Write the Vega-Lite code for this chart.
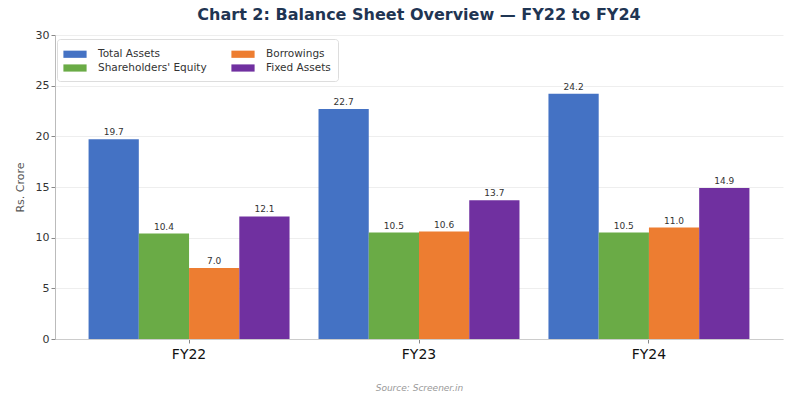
{
  "$schema": "https://vega.github.io/schema/vega-lite/v6.json",
  "width": 728,
  "height": 304,
  "autosize": {"type": "none"},
  "padding": {"left": 55, "top": 35, "right": 17, "bottom": 61},
  "background": "#ffffff",
  "config": {
    "font": "DejaVu Sans",
    "view": {"stroke": null}
  },
  "title": {
    "text": "Chart 2: Balance Sheet Overview — FY22 to FY24",
    "anchor": "middle",
    "fontSize": 16,
    "fontWeight": "bold",
    "color": "#1f3553",
    "offset": 6
  },
  "data": {
    "values": [
      {"fy": "FY22", "series": "Total Assets", "value": 19.7},
      {"fy": "FY22", "series": "Shareholders' Equity", "value": 10.4},
      {"fy": "FY22", "series": "Borrowings", "value": 7.0},
      {"fy": "FY22", "series": "Fixed Assets", "value": 12.1},
      {"fy": "FY23", "series": "Total Assets", "value": 22.7},
      {"fy": "FY23", "series": "Shareholders' Equity", "value": 10.5},
      {"fy": "FY23", "series": "Borrowings", "value": 10.6},
      {"fy": "FY23", "series": "Fixed Assets", "value": 13.7},
      {"fy": "FY24", "series": "Total Assets", "value": 24.2},
      {"fy": "FY24", "series": "Shareholders' Equity", "value": 10.5},
      {"fy": "FY24", "series": "Borrowings", "value": 11.0},
      {"fy": "FY24", "series": "Fixed Assets", "value": 14.9}
    ]
  },
  "encoding": {
    "x": {
      "field": "fy",
      "type": "nominal",
      "scale": {"paddingInner": 0.126, "paddingOuter": 0.146},
      "axis": {
        "title": "Source: Screener.in",
        "titleFontStyle": "italic",
        "titleFontWeight": "normal",
        "titleFontSize": 9,
        "titleColor": "#999999",
        "titlePadding": 22,
        "labelAngle": 0,
        "labelFontSize": 14,
        "labelColor": "#111111",
        "labelPadding": 4,
        "domainColor": "#cccccc",
        "tickColor": "#888888",
        "tickSize": 4
      }
    },
    "xOffset": {
      "field": "series",
      "type": "nominal",
      "sort": ["Total Assets", "Shareholders' Equity", "Borrowings", "Fixed Assets"],
      "scale": {"paddingInner": 0, "paddingOuter": 0}
    },
    "y": {
      "field": "value",
      "type": "quantitative",
      "scale": {"domain": [0, 30], "nice": false},
      "axis": {
        "title": "Rs. Crore",
        "titleFontWeight": "normal",
        "titleFontSize": 11,
        "titleColor": "#555555",
        "titlePadding": 10,
        "values": [0, 5, 10, 15, 20, 25, 30],
        "labelFontSize": 11,
        "labelColor": "#333333",
        "gridColor": "#eeeeee",
        "domainColor": "#bbbbbb",
        "tickColor": "#888888",
        "tickSize": 4
      }
    }
  },
  "layer": [
    {
      "mark": {"type": "bar"},
      "encoding": {
        "color": {
          "field": "series",
          "type": "nominal",
          "scale": {
            "domain": ["Total Assets", "Shareholders' Equity", "Borrowings", "Fixed Assets"],
            "range": ["#4472c4", "#6aab46", "#ed7d31", "#7030a0"]
          },
          "legend": {
            "title": null,
            "orient": "none",
            "legendX": 2,
            "legendY": 4,
            "direction": "horizontal",
            "columns": 2,
            "values": ["Total Assets", "Borrowings", "Shareholders' Equity", "Fixed Assets"],
            "symbolType": "M-1.45,-0.45H1.45V0.45H-1.45Z",
            "symbolSize": 256,
            "symbolStrokeWidth": 0,
            "symbolOffset": 3,
            "labelFontSize": 10.5,
            "labelColor": "#333333",
            "labelOffset": 15,
            "rowPadding": 0,
            "columnPadding": 24,
            "padding": 7,
            "strokeColor": "#dddddd",
            "fillColor": "#ffffff",
            "cornerRadius": 3
          }
        }
      }
    },
    {
      "mark": {"type": "text", "baseline": "bottom", "dy": -2, "fontSize": 9, "color": "#333333"},
      "encoding": {
        "text": {"field": "value", "type": "quantitative", "format": ".1f"}
      }
    }
  ]
}
